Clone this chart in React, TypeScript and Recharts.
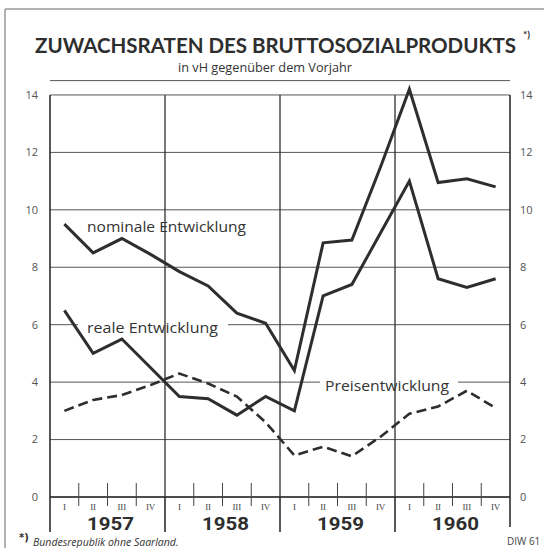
import { LineChart, Line, XAxis, YAxis, CartesianGrid, ReferenceLine, Customized } from 'recharts';

const YEARS = ['1957', '1958', '1959', '1960'];
const QUARTERS = ['I', 'II', 'III', 'IV'];

// Zuwachsraten in vH gegenüber dem Vorjahr, je Quartal
const NOMINAL = [9.5, 8.5, 9.0, 8.45, 7.85, 7.35, 6.4, 6.05, 4.4, 8.85, 8.95, 11.5, 14.2, 10.95, 11.08, 10.8];
const REAL = [6.5, 5.0, 5.5, 4.5, 3.5, 3.42, 2.85, 3.5, 3.0, 7.0, 7.4, 9.2, 11.0, 7.6, 7.3, 7.6];
const PRICES = [3.0, 3.38, 3.55, 3.9, 4.3, 3.95, 3.5, 2.6, 1.45, 1.75, 1.42, 2.1, 2.9, 3.15, 3.7, 3.1];

const Y_TICKS = [0, 2, 4, 6, 8, 10, 12, 14];

const data = NOMINAL.map((n, i) => ({ x: i + 0.5, nominal: n, real: REAL[i], prices: PRICES[i] }));
const nQ = NOMINAL.length;
const X_TICKS = Array.from({ length: nQ * 2 + 1 }, (_, i) => i / 2);
const DIVIDERS = Array.from({ length: YEARS.length + 1 }, (_, i) => i * 4);

const INK = '#2e2e2e';
const PLOT_LEFT = 50;
const QUARTER_W = 28.75;

function QuarterTick(props: any) {
  const { x, y, payload } = props;
  const v = payload.value;
  if (Number.isInteger(v)) {
    const isYear = v % 4 === 0;
    return isYear ? (
      <line x1={x} x2={x} y1={y} y2={y + (v === nQ ? 30 : 35)} stroke={INK} strokeWidth={1.6} />
    ) : (
      <line x1={x} x2={x} y1={y - 14} y2={y + 9} stroke="#444" strokeWidth={1} />
    );
  }
  return (
    <text x={x} y={y + 13} textAnchor="middle" fontSize={9} fontFamily="Liberation Serif" fill="#444">
      {QUARTERS[Math.floor(v) % 4]}
    </text>
  );
}

function Decorations() {
  return (
    <g>
      <line x1={5} x2={544} y1={9} y2={9} stroke="#999" strokeWidth={1.5} />
      <line x1={5} x2={5} y1={9} y2={548} stroke="#999" strokeWidth={1.5} />
      <text x={275.5} y={53} textAnchor="middle" fontSize={20} fontWeight={700} fontFamily="Lato" fill={INK}
        textLength={481} lengthAdjust="spacingAndGlyphs">
        ZUWACHSRATEN DES BRUTTOSOZIALPRODUKTS
      </text>
      <text x={523} y={38} fontSize={10} fontWeight={700} fontFamily="Lato" fill={INK}>*)</text>
      <text x={265} y={72} textAnchor="middle" fontSize={13} fontFamily="Open Sans" fill="#333"
        textLength={174} lengthAdjust="spacingAndGlyphs">
        in vH gegenüber dem Vorjahr
      </text>

      {YEARS.map((yr, i) => (
        <text key={yr} x={PLOT_LEFT + (i * 4 + 2) * QUARTER_W + 3} y={530} textAnchor="middle"
          fontSize={17.5} fontWeight={700} fontFamily="Roboto" fill={INK}
          textLength={47} lengthAdjust="spacingAndGlyphs">
          {yr}
        </text>
      ))}

      <text x={87} y={232} fontSize={15} fontFamily="Open Sans" fill="#333" textLength={159} lengthAdjust="spacingAndGlyphs">
        nominale Entwicklung
      </text>
      <rect x={78} y={318} width={150} height={15} fill="#fff" />
      <text x={87} y={333} fontSize={15} fontFamily="Open Sans" fill="#333" textLength={131} lengthAdjust="spacingAndGlyphs">
        reale Entwicklung
      </text>
      <rect x={320} y={375} width={138} height={15} fill="#fff" />
      <text x={325} y={391} fontSize={15} fontFamily="Open Sans" fill="#333" textLength={124} lengthAdjust="spacingAndGlyphs">
        Preisentwicklung
      </text>

      <text x={19} y={541} fontSize={10} fontWeight={700} fontFamily="DejaVu Sans" fill={INK}>*)</text>
      <text x={33} y={545.5} fontSize={10.5} fontStyle="italic" fontFamily="Open Sans" fill="#333">
        Bundesrepublik ohne Saarland.
      </text>
      <text x={507} y={545} fontSize={10} fontFamily="Open Sans" fill="#444">DIW 61</text>
    </g>
  );
}

export default function App() {
  return (
    <div style={{ position: 'absolute', left: 0, top: 0, width: 546, height: 548, background: '#fff' }}>
      <LineChart width={546} height={548} data={data} margin={{ top: 80.6, right: 0, bottom: 0, left: 0 }}>
        <CartesianGrid vertical={false} yAxisId="l" stroke="#555" strokeWidth={1} />
        <XAxis
          dataKey="x"
          type="number"
          domain={[0, nQ]}
          ticks={X_TICKS}
          interval={0}
          height={51}
          tickSize={0}
          tickMargin={0}
          tickLine={false}
          axisLine={{ stroke: INK, strokeWidth: 1.6 }}
          tick={<QuarterTick />}
        />
        <YAxis
          yAxisId="l"
          domain={[0, 14.5]}
          ticks={Y_TICKS}
          width={PLOT_LEFT}
          axisLine={false}
          tickLine={false}
          tickSize={0}
          tickMargin={12}
          tick={{ fontSize: 11, fill: '#555', fontFamily: 'Open Sans' }}
        />
        <YAxis
          yAxisId="r"
          orientation="right"
          domain={[0, 14.5]}
          ticks={Y_TICKS}
          width={36}
          axisLine={false}
          tickLine={false}
          tickSize={0}
          tickMargin={10}
          tick={{ fontSize: 11, fill: '#555', fontFamily: 'Open Sans' }}
        />
        {DIVIDERS.map((d) => (
          <ReferenceLine
            key={d}
            yAxisId="l"
            segment={[{ x: d, y: 0 }, { x: d, y: 14 }]}
            stroke={INK}
            strokeWidth={d === 0 || d === nQ ? 1.6 : 1.3}
          />
        ))}
        <Customized component={Decorations} />
        <Line yAxisId="l" dataKey="nominal" stroke={INK} strokeWidth={3} dot={false} isAnimationActive={false} />
        <Line yAxisId="l" dataKey="real" stroke={INK} strokeWidth={3} dot={false} isAnimationActive={false} />
        <Line yAxisId="r" dataKey="prices" stroke={INK} strokeWidth={2.6} strokeDasharray="10 5" dot={false} isAnimationActive={false} />
      </LineChart>
    </div>
  );
}
